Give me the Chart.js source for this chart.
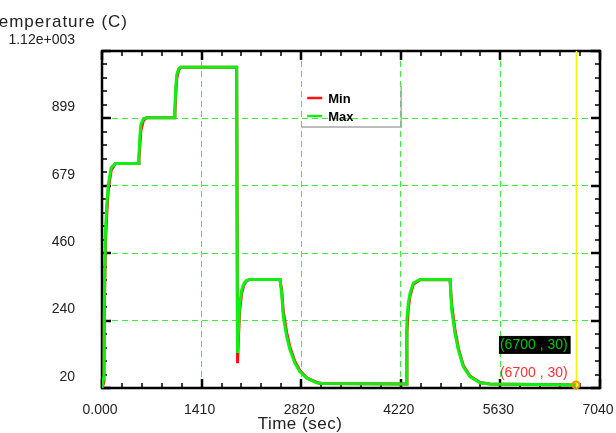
<!DOCTYPE html>
<html>
<head>
<meta charset="utf-8">
<script src="https://cdn.jsdelivr.net/npm/chart.js@4.4.1/dist/chart.umd.min.js"></script>
<style>
    html, body { margin: 0; padding: 0; background: #fff; }
    #wrap { position: relative; width: 616px; height: 433px; }
</style>
</head>
<body>
<div id="wrap"><canvas id="tempChart" width="616" height="433"></canvas></div>
<script>
// time axis (sec) shared by both series
const timeSec = [0, 28, 32, 50, 70, 90, 130, 190, 513, 522, 535, 550, 585, 630,
    1022, 1030, 1042, 1057, 1085, 1115, 1904, 1916, 1930, 1945, 1975, 2010, 2046, 2092,
    2516, 2540, 2563, 2611, 2658, 2728, 2799, 2894, 3035, 3106, 4300, 4310, 4330, 4354,
    4401, 4496, 4920, 4944, 4990, 5037, 5108, 5202, 5344, 5485, 6700];
const maxTemp = [20, 60, 300, 540, 625, 685, 738, 752, 752, 780, 840, 880, 898, 901,
    901, 930, 1000, 1042, 1062, 1066, 1066, 134, 215, 290, 340, 362, 371, 374,
    374, 328, 252, 187, 144, 100, 73, 52, 37, 35, 33, 245, 296, 329,
    362, 374, 374, 274, 198, 144, 89, 57, 37, 33, 30];
const minTemp = [20, 40, 250, 500, 600, 670, 730, 752, 752, 765, 810, 860, 893, 901,
    901, 915, 975, 1030, 1058, 1066, 1066, 101, 190, 270, 330, 358, 370, 374,
    374, 340, 270, 200, 152, 106, 76, 53, 38, 35, 33, 200, 280, 320,
    358, 373, 374, 290, 210, 150, 93, 59, 38, 33, 30];

const xTickValues = [0, 1408, 2816, 4224, 5632, 7040];
const xTickLabels = ['0.000', '1410', '2820', '4220', '5630', '7040'];
const yTickValues = [20, 239.8, 459.6, 679.4, 899.2, 1119];
const yTickLabels = ['20', '240', '460', '679', '899', '1.12e+003'];

// cursor readout
const cursorTime = 6700;
const cursorMax = 30;
const cursorMin = 30;

document.addEventListener('DOMContentLoaded', function () {
    const fontFamily = '"Liberation Sans", Arial, sans-serif';
    const gridColor = '#3ded3d';
    const textColor = '#222';

    function toPoints(values) {
        return timeSec.map((t, i) => ({ x: t, y: values[i] }));
    }

    function hideEdges(ctx, count) {
        return (ctx.index === 0 || ctx.index === count - 1) ? 'rgba(0,0,0,0)' : gridColor;
    }

    // black frame with inward major / minor ticks
    const framePlugin = {
        id: 'frame',
        beforeDatasetsDraw(chart) {
            const ctx = chart.ctx;
            const a = chart.chartArea;
            const xs = chart.scales.x;
            const ys = chart.scales.y;
            ctx.save();
            ctx.strokeStyle = '#000';

            ctx.lineWidth = 1.5;
            ctx.beginPath();
            for (let i = 0; i < xTickValues.length - 1; i++) {
                for (let k = 1; k < 5; k++) {
                    const px = Math.round(xs.getPixelForValue(xTickValues[i] + (xTickValues[i + 1] - xTickValues[i]) * k / 5));
                    ctx.moveTo(px, a.bottom); ctx.lineTo(px, a.bottom - 5);
                    ctx.moveTo(px, a.top); ctx.lineTo(px, a.top + 5);
                }
            }
            for (let i = 0; i < yTickValues.length - 1; i++) {
                for (let k = 1; k < 5; k++) {
                    const py = Math.round(ys.getPixelForValue(yTickValues[i] + (yTickValues[i + 1] - yTickValues[i]) * k / 5));
                    ctx.moveTo(a.left, py); ctx.lineTo(a.left + 5, py);
                    ctx.moveTo(a.right, py); ctx.lineTo(a.right - 5, py);
                }
            }
            ctx.stroke();

            ctx.lineWidth = 2.5;
            ctx.beginPath();
            xTickValues.forEach(v => {
                const px = Math.round(xs.getPixelForValue(v));
                ctx.moveTo(px, a.bottom); ctx.lineTo(px, a.bottom - 9);
                ctx.moveTo(px, a.top); ctx.lineTo(px, a.top + 9);
            });
            yTickValues.forEach(v => {
                const py = Math.round(ys.getPixelForValue(v));
                ctx.moveTo(a.left, py); ctx.lineTo(a.left + 9, py);
                ctx.moveTo(a.right, py); ctx.lineTo(a.right - 9, py);
            });
            ctx.stroke();

            ctx.lineWidth = 2.5;
            ctx.strokeRect(a.left, a.top, a.right - a.left, a.bottom - a.top);
            ctx.restore();
        }
    };

    // cursor line, readouts, legend and axis titles
    const overlayPlugin = {
        id: 'overlay',
        afterDatasetsDraw(chart) {
            const ctx = chart.ctx;
            const a = chart.chartArea;
            const xs = chart.scales.x;
            const ys = chart.scales.y;
            const cx = xs.getPixelForValue(cursorTime);
            const cy = ys.getPixelForValue(cursorMax);
            const ds = chart.data.datasets;

            ctx.save();
            // yellow cursor line
            ctx.strokeStyle = '#f5f500';
            ctx.lineWidth = 1.5;
            ctx.beginPath();
            ctx.moveTo(cx + 0.5, a.top);
            ctx.lineTo(cx + 0.5, a.bottom);
            ctx.stroke();

            // marker
            ctx.strokeStyle = '#ff8c00';
            ctx.lineWidth = 2;
            ctx.beginPath();
            ctx.arc(cx, cy, 3.5, 0, Math.PI * 2);
            ctx.stroke();

            // readout labels
            ctx.font = '14px ' + fontFamily;
            ctx.textBaseline = 'middle';
            ctx.textAlign = 'left';
            const maxText = '(' + cursorTime + ' , ' + cursorMax + ')';
            const minText = '(' + cursorTime + ' , ' + cursorMin + ')';
            const w = ctx.measureText(maxText).width;
            const bx = cx - 77;
            ctx.fillStyle = '#000';
            ctx.fillRect(bx, cy - 49, w + 4, 18);
            ctx.fillStyle = '#00c800';
            ctx.fillText(maxText, bx + 1, cy - 40);
            ctx.fillStyle = '#ff3030';
            ctx.fillText(minText, bx + 1, cy - 12);

            // legend
            const lx = xs.getPixelForValue(2816);
            ctx.strokeStyle = '#a8a8a8';
            ctx.lineWidth = 1.5;
            ctx.beginPath();
            ctx.moveTo(lx + 100, 86);
            ctx.lineTo(lx + 100, 127);
            ctx.lineTo(lx, 127);
            ctx.stroke();
            ctx.font = 'bold 13px ' + fontFamily;
            ds.forEach((d, i) => {
                const y = 98 + i * 18;
                ctx.strokeStyle = d.borderColor;
                ctx.lineWidth = 2.5;
                ctx.beginPath();
                ctx.moveTo(lx + 6, y);
                ctx.lineTo(lx + 21, y);
                ctx.stroke();
                ctx.fillStyle = '#000';
                ctx.fillText(d.label, lx + 27, y + 1);
            });

            // axis titles
            ctx.fillStyle = textColor;
            ctx.font = '17px ' + fontFamily;
            ctx.letterSpacing = '0.5px';
            ctx.textBaseline = 'alphabetic';
            ctx.textAlign = 'center';
            ctx.fillText('Time (sec)', 300, 429);
            ctx.letterSpacing = '1px';
            ctx.textAlign = 'right';
            ctx.fillText('Temperature (C)', 128, 27);
            ctx.restore();
        }
    };

    new Chart(document.getElementById('tempChart'), {
        type: 'line',
        data: {
            datasets: [
                {
                    label: 'Min',
                    data: toPoints(minTemp),
                    borderColor: '#ff1010',
                    borderWidth: 3,
                    pointRadius: 0,
                    tension: 0,
                    order: 1
                },
                {
                    label: 'Max',
                    data: toPoints(maxTemp),
                    borderColor: '#10f010',
                    borderWidth: 3,
                    pointRadius: 0,
                    tension: 0,
                    order: 0
                }
            ]
        },
        options: {
            responsive: false,
            animation: false,
            devicePixelRatio: 1,
            layout: { padding: { top: 51, right: 16, left: 0, bottom: 0 } },
            scales: {
                x: {
                    type: 'linear',
                    min: 0,
                    max: 7040,
                    afterBuildTicks: s => { s.ticks = xTickValues.map(v => ({ value: v })); },
                    afterFit: s => {
                        s.height = 45;
                        s.paddingLeft = 0;
                        s.paddingRight = 0;
                    },
                    ticks: {
                        autoSkip: false,
                        maxRotation: 0,
                        padding: 14,
                        labelOffset: -2,
                        color: textColor,
                        font: { family: fontFamily, size: 14 },
                        callback: (v, i) => xTickLabels[i]
                    },
                    grid: {
                        color: c => hideEdges(c, xTickValues.length),
                        lineWidth: 1,
                        drawTicks: false
                    },
                    border: { display: false, dash: [6, 4] }
                },
                y: {
                    type: 'linear',
                    min: 20,
                    max: 1119,
                    afterBuildTicks: s => { s.ticks = yTickValues.map(v => ({ value: v })); },
                    afterFit: s => {
                        s.width = 102;
                        s.paddingTop = 0;
                        s.paddingBottom = 0;
                    },
                    ticks: {
                        autoSkip: false,
                        padding: 27,
                        labelOffset: -11,
                        color: textColor,
                        font: { family: fontFamily, size: 14 },
                        callback: (v, i) => yTickLabels[i]
                    },
                    grid: {
                        color: c => hideEdges(c, yTickValues.length),
                        lineWidth: 1,
                        drawTicks: false
                    },
                    border: { display: false, dash: [6, 4] }
                }
            },
            plugins: {
                legend: { display: false },
                tooltip: { enabled: false }
            }
        },
        plugins: [framePlugin, overlayPlugin]
    });
});
</script>
</body>
</html>
